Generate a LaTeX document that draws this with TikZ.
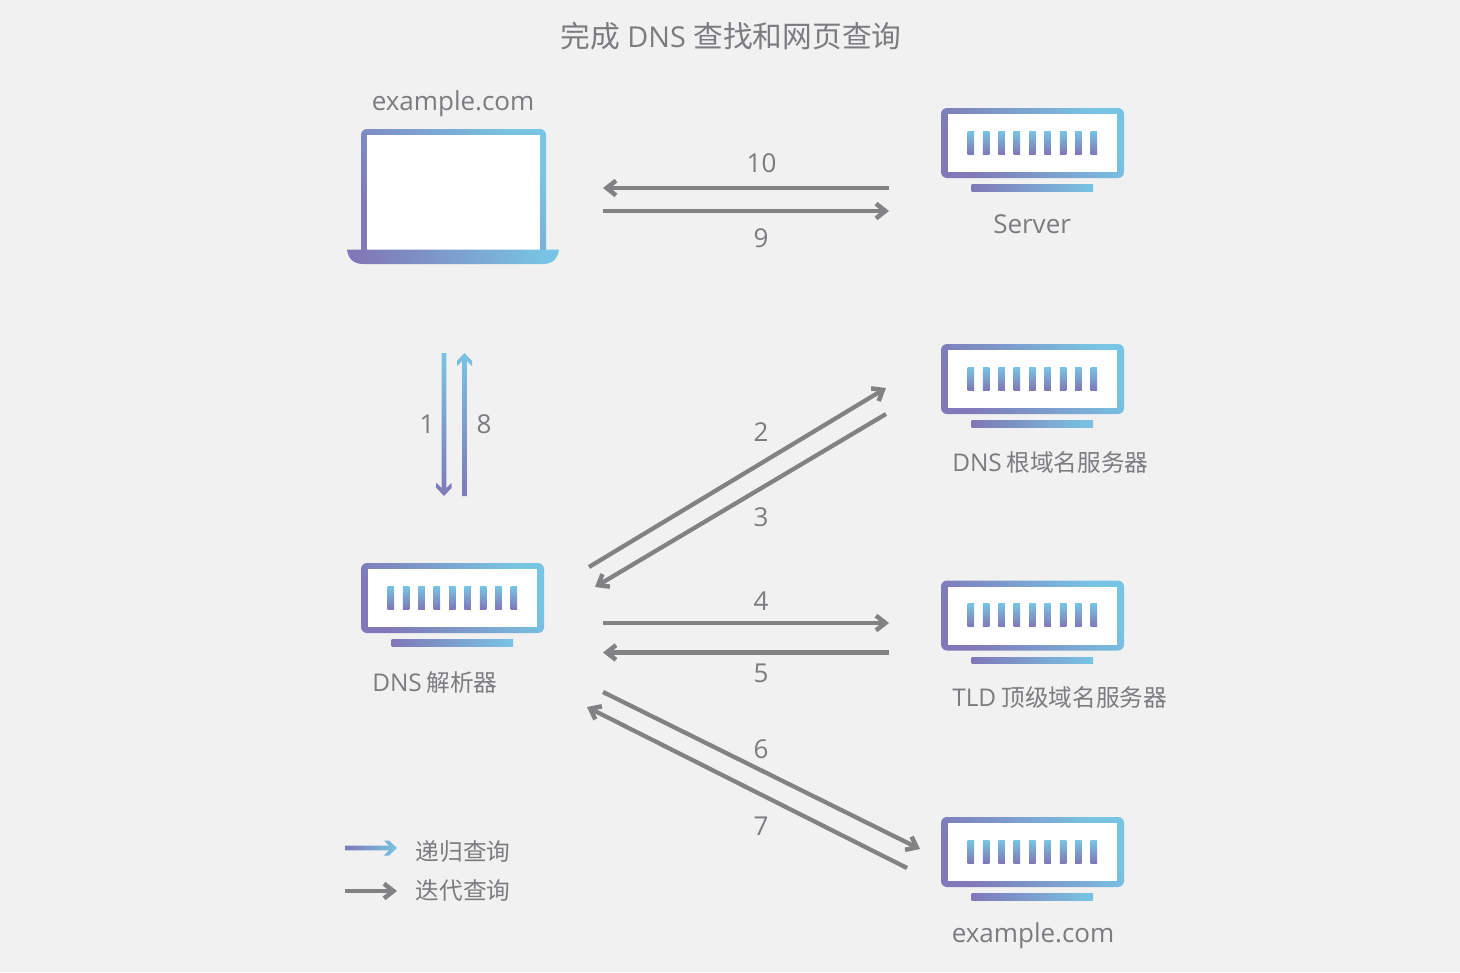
\documentclass[tikz,border=0pt]{standalone}
\usepackage{fontspec}
\setmainfont{Open Sans}
\newfontfamily\cjk{Noto Sans CJK SC}
\newcommand{\zh}[1]{{\fontsize{17.75}{23}\selectfont\cjk #1}}
\newcommand{\lat}[1]{{\fontsize{18.3}{23}\selectfont #1}}
\usetikzlibrary{arrows.meta,calc}

\definecolor{bgpage}{RGB}{241,241,241}
\definecolor{txtgray}{RGB}{122,124,127}
\definecolor{arrgray}{RGB}{130,130,133}
\definecolor{gradpurple}{RGB}{128,120,184}
\definecolor{gradblue}{RGB}{120,196,228}

\tikzset{
  lbl/.style={anchor=west,inner sep=0.75pt,text=txtgray,font=\fontsize{19.5}{23}\selectfont},
  num/.style={anchor=center,inner sep=0.75pt,text=txtgray,font=\fontsize{19.5}{23}\selectfont},
  iterarrow/.style={draw=arrgray,line width=3.2pt,-{Straight Barb[length=7pt,width=11pt,line width=3.4pt]}},
  gradfill/.style={top color=gradblue,bottom color=gradpurple,shading angle=-58},
  pics/monitor/.style={code={
    %Shape: Frame
    \shade[gradfill,rounded corners=4.5] (0,0) rectangle (183,70);
    \fill[white] (6.5,6) rectangle (176,64);
    %Shape: Slots
    \foreach \i in {0,...,8}
      \shade[top color=gradblue,bottom color=gradpurple] ({26.5+15.38*\i},23) rectangle ++(6.5,23);
    %Shape: Stand
    \shade[left color=gradpurple,right color=gradblue] (30.5,76.5) rectangle (152,83);
  }}
}

\begin{document}
\begin{tikzpicture}[x=0.75pt,y=0.75pt,yscale=-1,xscale=1]
  \useasboundingbox (0,0) rectangle (1460,972);
  \fill[bgpage] (0,0) rectangle (1460,972);

  %Shape: Laptop
  \shade[gradfill,shading angle=-55,rounded corners=4.5] (361,129) -- (546,129) -- (546,255) -- (361,255) -- cycle;
  \fill[white] (367,135) rectangle (540,249.5);
  \shade[gradfill,shading angle=-80] (347,249.5) -- (559,249.5) .. controls (558,258) and (553,264) .. (543,264) -- (363,264) .. controls (353,264) and (348,258) .. (347,249.5) -- cycle;

  %Shape: Monitors
  \pic[transform shape] (srvweb) at (941,108) {monitor};
  \pic[transform shape] (srvroot) at (941,344) {monitor};
  \pic[transform shape] (srvtld) at (941,580.5) {monitor};
  \pic[transform shape] (srvauth) at (941,817) {monitor};
  \pic[transform shape] (srvdns) at (361,563) {monitor};

  %Coordinates
  \coordinate (p9s) at (603,211);
  \coordinate (p9e) at (889,211);
  \coordinate (p10s) at (889,188);
  \coordinate (p10e) at (603,188);
  \coordinate (p2s) at (589,567);
  \coordinate (p2e) at (886,388);
  \coordinate (p3s) at (886,414);
  \coordinate (p3e) at (595,587);
  \coordinate (p4s) at (603,623);
  \coordinate (p4e) at (889,623);
  \coordinate (p5s) at (889,652.5);
  \coordinate (p5e) at (603,652.5);
  \coordinate (p6s) at (603,692);
  \coordinate (p6e) at (920,849);
  \coordinate (p7s) at (907,868);
  \coordinate (p7e) at (587,707);
  \coordinate (legs) at (345,891);
  \coordinate (lege) at (397,891);

  %Straight Lines
  \foreach \a/\b in {p9s/p9e,p10s/p10e,p2s/p2e,p3s/p3e,p4s/p4e,p5s/p5e,p6s/p6e,p7s/p7e}
    \draw[iterarrow] (\a) -- (\b);
  \draw[iterarrow,line width=3.6pt] (legs) -- (lege);

  %Shape: Gradient arrows
  \coordinate (p1s) at (444,353);
  \coordinate (p1e) at (444,496);
  \coordinate (p8s) at (464.5,496);
  \coordinate (p8e) at (464.5,353);
  \coordinate (recs) at (345,848);
  \coordinate (rece) at (397,848);
  \shade[top color=gradblue,bottom color=gradpurple]
    ($(p1s)+(-2.3,0)$) -- ($(p1s)+(2.3,0)$) -- ($(p1e)+(2.3,-8)$) -- ($(p1e)+(7.5,-13)$) -- ($(p1e)+(7.5,-8)$) -- (p1e) -- ($(p1e)+(-7.5,-8)$) -- ($(p1e)+(-7.5,-13)$) -- ($(p1e)+(-2.3,-8)$) -- cycle;
  \shade[top color=gradblue,bottom color=gradpurple]
    ($(p8s)+(-2.3,0)$) -- ($(p8s)+(2.3,0)$) -- ($(p8e)+(2.3,8)$) -- ($(p8e)+(7.5,13)$) -- ($(p8e)+(7.5,8)$) -- (p8e) -- ($(p8e)+(-7.5,8)$) -- ($(p8e)+(-7.5,13)$) -- ($(p8e)+(-2.3,8)$) -- cycle;
  \shade[left color=gradpurple,right color=gradblue]
    ($(recs)+(0,-2.3)$) -- ($(rece)+(-8,-2.3)$) -- ($(rece)+(-13,-7.5)$) -- ($(rece)+(-8,-7.5)$) -- (rece) -- ($(rece)+(-8,7.5)$) -- ($(rece)+(-13,7.5)$) -- ($(rece)+(-8,2.3)$) -- ($(recs)+(0,2.3)$) -- cycle;

  % Text Nodes
  \node[lbl,anchor=center,font=\fontsize{21.6}{27}\selectfont] (title) at (731,36) {{\fontsize{22.3}{27}\selectfont\cjk 完成} DNS {\fontsize{22.3}{27}\selectfont\cjk 查找和网页查询}};
  \node[lbl] (lbllaptop) at (370.5,104) {example.com};
  \node[lbl] (lblweb) at (992,224.5) {Server};
  \node[lbl] (lblroot) at (951,462) {\lat{DNS}\hspace{-1.6pt} \zh{根域名服务器}};
  \node[lbl] (lbltld) at (951,697) {\lat{TLD}\hspace{-1.2pt} \zh{顶级域名服务器}};
  \node[lbl] (lblauth) at (950.5,936) {example.com};
  \node[lbl] (lbldns) at (371,682.5) {\lat{DNS}\hspace{-1.6pt} \zh{解析器}};
  \node[lbl] (lblrec) at (414.5,851.5) {\zh{递归查询}};
  \node[lbl] (lbliter) at (414.5,891) {\zh{迭代查询}};
  \node[num] (n10) at (761.5,163) {10};
  \node[num] (n9) at (761,238) {9};
  \node[num] (n1) at (427,424) {1};
  \node[num] (n8) at (484,424) {8};
  \node[num] (n2) at (761,432) {2};
  \node[num] (n3) at (761,517) {3};
  \node[num] (n4) at (761,601) {4};
  \node[num] (n5) at (761,673) {5};
  \node[num] (n6) at (761,749) {6};
  \node[num] (n7) at (761,826) {7};
\end{tikzpicture}
\end{document}
